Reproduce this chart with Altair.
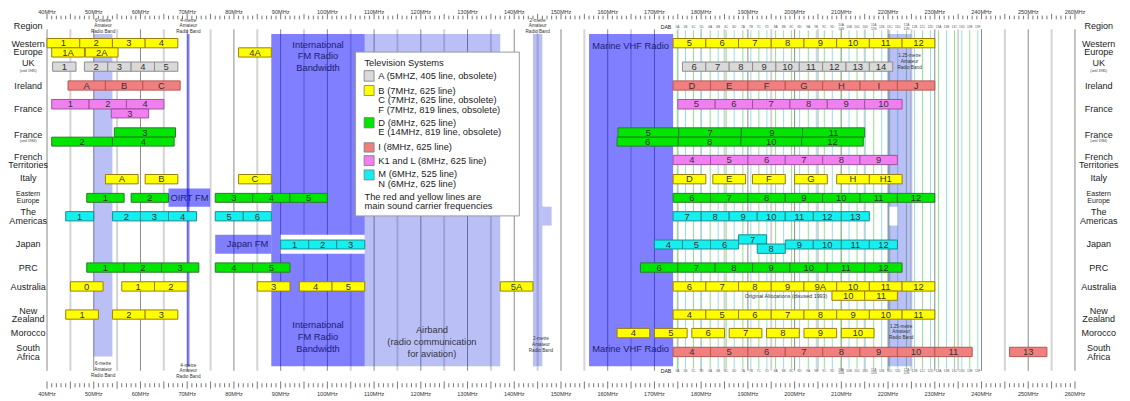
import altair as alt
import pandas as pd

# ---------------- channel data (label, start MHz, end MHz) ----------------
WESTERN_EUROPE = [("1", 40, 47), ("2", 47, 54), ("3", 54, 61), ("4", 61, 68),
                  ("5", 174, 181), ("6", 181, 188), ("7", 188, 195), ("8", 195, 202),
                  ("9", 202, 209), ("10", 209, 216), ("11", 216, 223), ("12", 223, 230)]
WESTERN_EUROPE_A = [("1A", 41, 48), ("2A", 48.2, 55.2), ("4A", 81, 88)]
UK = [("1", 41.2, 46.2), ("2", 48, 53), ("3", 53, 58), ("4", 58, 63), ("5", 63, 68),
      ("6", 176, 181), ("7", 181, 186), ("8", 186, 191), ("9", 191, 196), ("10", 196, 201),
      ("11", 201, 206), ("12", 206, 211), ("13", 211, 216), ("14", 216, 221)]
IRELAND = [("A", 44.5, 52.5), ("B", 52.5, 60.5), ("C", 60.5, 68.5),
           ("D", 174, 182), ("E", 182, 190), ("F", 190, 198), ("G", 198, 206),
           ("H", 206, 214), ("I", 214, 222), ("J", 222, 230)]
FRANCE = [("1", 41, 49), ("2", 49, 57), ("4", 57, 65),
          ("5", 175, 183), ("6", 183, 191), ("7", 191, 199), ("8", 199, 207),
          ("9", 207, 215), ("10", 215, 223)]
FRANCE_B = [("3", 53.75, 61.75)]
FRANCE_1984_A = [("3", 54.4, 67.5), ("5", 162.2, 175.2), ("7", 175.2, 188.6),
                 ("9", 188.6, 201.7), ("11", 201.7, 215)]
FRANCE_1984_B = [("2", 41, 54), ("4", 54, 67.2), ("6", 162, 175.1), ("8", 175.1, 188.5),
                 ("10", 188.5, 201.5), ("12", 201.5, 214.7)]
FRENCH_TERRITORIES = [("4", 174, 182), ("5", 182, 190), ("6", 190, 198), ("7", 198, 206),
                      ("8", 206, 214), ("9", 214, 222)]
ITALY = [("A", 52.5, 59.5), ("B", 61, 68), ("C", 81, 88), ("D", 174, 181), ("E", 182.5, 189.5),
         ("F", 191, 198), ("G", 200, 207), ("H", 209, 216), ("H1", 216, 223)]
EASTERN_EUROPE = [("1", 48.5, 56.5), ("2", 58, 66), ("3", 76, 84), ("4", 84, 92), ("5", 92, 100),
                  ("6", 174, 182), ("7", 182, 190), ("8", 190, 198), ("9", 198, 206),
                  ("10", 206, 214), ("11", 214, 222), ("12", 222, 230)]
AMERICAS = [("1", 44, 50), ("2", 54, 60), ("3", 60, 66), ("4", 66, 72), ("5", 76, 82), ("6", 82, 88),
            ("7", 174, 180), ("8", 180, 186), ("9", 186, 192), ("10", 192, 198), ("11", 198, 204),
            ("12", 204, 210), ("13", 210, 216)]
JAPAN = [("1", 90, 96), ("2", 96, 102), ("3", 102, 108), ("4", 170, 176), ("5", 176, 182),
         ("6", 182, 188), ("9", 198, 204), ("10", 204, 210), ("11", 210, 216), ("12", 216, 222)]
JAPAN_UP = [("7", 188, 194)]
JAPAN_DOWN = [("8", 192, 198)]
PRC = [("1", 48.5, 56.5), ("2", 56.5, 64.5), ("3", 64.5, 72.5), ("4", 76, 84), ("5", 84, 92),
       ("6", 167, 175), ("7", 175, 183), ("8", 183, 191), ("9", 191, 199), ("10", 199, 207),
       ("11", 207, 215), ("12", 215, 223)]
AUSTRALIA = [("0", 45, 52), ("1", 56, 63), ("2", 63, 70), ("3", 85, 92), ("4", 94, 101),
             ("5", 101, 108), ("5A", 137, 144), ("6", 174, 181), ("7", 181, 188), ("8", 188, 195),
             ("9", 195, 202), ("9A", 202, 209), ("10", 209, 216), ("11", 216, 223), ("12", 223, 230)]
AUSTRALIA_OLD = [("10", 208, 215), ("11", 215, 222)]
NEW_ZEALAND = [("1", 44, 51), ("2", 54, 61), ("3", 61, 68), ("4", 174, 181), ("5", 181, 188),
               ("6", 188, 195), ("7", 195, 202), ("8", 202, 209), ("9", 209, 216),
               ("10", 216, 223), ("11", 223, 230)]
MOROCCO = [("4", 162, 169), ("5", 170, 177), ("6", 178, 185), ("7", 186, 193), ("8", 194, 201),
           ("9", 202, 209), ("10", 210, 217)]
SOUTH_AFRICA = [("4", 174, 182), ("5", 182, 190), ("6", 190, 198), ("7", 198, 206),
                ("8", 206, 214), ("9", 214, 222), ("10", 222, 230), ("11", 230, 238), ("13", 246, 254)]

# radio bands (name, start MHz, end MHz)
BANDS_DARK = [("4-metre", 70, 70.5), ("FM", 88, 108), ("Marine", 156, 174)]
BANDS_LIGHT = [("6-metre", 50, 54), ("Airband", 108, 137), ("2-metre", 144, 146), ("1.25-metre", 220, 225)]
OIRT_FM = (66, 74.9)
JAPAN_FM = (76, 88)
JAPAN_GAP = (90, 108)
AMERICAS_2M_EXT = (146, 148)
AMERICAS_125_GAP = (220.3, 222)

DAB_BLOCKS = ["5A", "5B", "5C", "5D", "6A", "6B", "6C", "6D", "7A", "7B", "7C", "7D",
              "8A", "8B", "8C", "8D", "9A", "9B", "9C", "9D", "10A\n10N", "10B", "10C", "10D",
              "11A\n11N", "11B", "11C", "11D", "12A\n12N", "12B", "12C", "12D",
              "13A", "13B", "13C", "13D", "13E", "13F"]
DAB_MHZ = [174.928, 176.640, 178.352, 180.064, 181.936, 183.648, 185.360, 187.072,
           188.928, 190.640, 192.352, 194.064, 195.936, 197.648, 199.360, 201.072,
           202.928, 204.640, 206.352, 208.064, 209.936, 211.648, 213.360, 215.072,
           216.928, 218.640, 220.352, 222.064, 223.936, 225.648, 227.360, 229.072,
           230.784, 232.496, 234.208, 235.776, 237.488, 239.200]

REGIONS = ["Region", "Western\nEurope", "UK", "Ireland", "France", "France", "French\nTerritories",
           "Italy", "The\nAmericas", "Japan", "PRC", "Australia", "New\nZealand", "Morocco", "South\nAfrica"]
SMALL_REGIONS = ["Eastern\nEurope"]
REGION_NOTES = ["(until 1985)", "(until 1984)"]

LEGEND_TITLE = "Television Systems"
LEGEND_SYSTEMS = ["A", "B", "D", "I", "L", "M"]
LEGEND_LINES = [["A (5MHZ, 405 line, obsolete)"],
                ["B (7MHz, 625 line)", "C (7MHz, 625 line, obsolete)", "F (7MHz, 819 lines, obsolete)"],
                ["D (8MHz, 625 line)", "E (14MHz, 819 line, obsolete)"],
                ["I (8MHz, 625 line)"],
                ["K1 and L (8MHz, 625 line)"],
                ["M (6MHz, 525 line)", "N (6MHz, 625 line)"]]
LEGEND_NOTE = ["The red and yellow lines are", "main sound carrier frequencies"]

AXIS_MINOR_MHZ = list(range(40, 261))
AXIS_LABEL_MHZ = list(range(40, 261, 10))
GRID_MHZ = list(range(40, 261, 5))

# ---------------- styles / layout ----------------
SYS_DOMAIN = ["A", "B", "D", "I", "L", "M"]
SYS_FILL = ["#d9d9d9", "#ffff00", "#00e600", "#f08080", "#f080f0", "#14f0f0"]
SYS_STROKE = ["#8c8c8c", "#9a7d0a", "#2a7a2a", "#b85450", "#a050a0", "#1a8a8a"]
FONT = "Liberation Sans"
W, H = 1122, 393


def mhz(page_x):
    return 40 + (page_x - 47.3) / 4.706


X_MIN, X_MAX = mhz(8), mhz(8 + W)
XS = alt.Scale(domain=[X_MIN, X_MAX], nice=False, zero=False)
YS = alt.Scale(domain=[8, 8 + H], reverse=True, nice=False, zero=False)


def X(f):
    return alt.X(f"{f}:Q", scale=XS, axis=None)


def Y(f):
    return alt.Y(f"{f}:Q", scale=YS, axis=None)


ROW_SPAN = {"we": (37.3, 46.7), "we2": (46.7, 56.0), "uk": (61, 70.3), "ie": (80, 89.3),
            "fr": (98.7, 108.3), "fr2": (108.3, 117.3), "fe1": (127.3, 136.7), "fe2": (136.7, 145.7),
            "ft": (155, 164.3), "it": (174.3, 183.7), "ee": (193.3, 202.3), "am": (211.7, 221),
            "jp": (240.3, 249.3), "jp7": (235, 244.3), "jp8": (244.3, 253.7), "cn": (263.3, 272.7),
            "au": (282.3, 291.7), "au2": (291.7, 301), "nz": (310.7, 320), "ma": (329.3, 338.7),
            "za": (348.3, 357.7)}
CHANNEL_ROWS = [("we", "B", WESTERN_EUROPE), ("we2", "B", WESTERN_EUROPE_A), ("uk", "A", UK),
                ("ie", "I", IRELAND), ("fr", "L", FRANCE), ("fr2", "L", FRANCE_B),
                ("fe1", "D", FRANCE_1984_A), ("fe2", "D", FRANCE_1984_B), ("ft", "L", FRENCH_TERRITORIES),
                ("it", "B", ITALY), ("ee", "D", EASTERN_EUROPE), ("am", "M", AMERICAS),
                ("jp", "M", JAPAN), ("jp7", "M", JAPAN_UP), ("jp8", "M", JAPAN_DOWN), ("cn", "D", PRC),
                ("au", "B", AUSTRALIA), ("au2", "B", AUSTRALIA_OLD), ("nz", "B", NEW_ZEALAND),
                ("ma", "B", MOROCCO), ("za", "I", SOUTH_AFRICA)]
# y of the first text line of each region label
REGION_Y = [24.5, 42.5, 62.3, 84.7, 108.3, 134.3, 156.2, 178.3, 212.5, 244, 268.3, 287.3, 311.7, 334.3, 349.2]
SMALL_REGION_Y = [193.6]
NOTE_Y = [69.7, 140.3]
LEFT_X, RIGHT_X = mhz(28.3), mhz(1106.5)

recs = []
for key, sysname, entries in CHANNEL_ROWS:
    top, bot = ROW_SPAN[key]
    for lab, s, e in entries:
        recs.append(dict(label=lab, start=s, end=e, top=top, bot=bot, mid=(s + e) / 2,
                         ymid=(top + bot) / 2 + 0.3, system=sysname))
ch = pd.DataFrame(recs)

color_fill = alt.Color("system:N", scale=alt.Scale(domain=SYS_DOMAIN, range=SYS_FILL), legend=None)
color_stroke = alt.Stroke("system:N", scale=alt.Scale(domain=SYS_DOMAIN, range=SYS_STROKE), legend=None)

layers = []

# grid lines
grid = pd.DataFrame({"f": GRID_MHZ})
grid["y0"], grid["y1"] = 28, 372
layers.append(alt.Chart(grid[grid.f % 10 != 0]).mark_rule(color="#d4d4d4", strokeWidth=2)
              .encode(x=X("f"), y=Y("y0"), y2="y1"))
layers.append(alt.Chart(grid[grid.f % 10 == 0]).mark_rule(color="#8a8a8a", strokeWidth=1)
              .encode(x=X("f"), y=Y("y0"), y2="y1"))

# DAB lines
dab = pd.DataFrame({"f": DAB_MHZ, "lab": DAB_BLOCKS})
dab["two"] = dab.lab.str.contains("\n")
dab["y0"], dab["y1"] = 29, 370
dab["yt"] = dab.two.map({True: 24.2, False: 25.7})
dab["yb"] = dab.two.map({True: 371.2, False: 372.7})
layers.append(alt.Chart(dab.iloc[::2]).mark_rule(strokeWidth=1, color="#8fe08f").encode(
    x=X("f"), y=Y("y0"), y2="y1"))
layers.append(alt.Chart(dab.iloc[1::2]).mark_rule(strokeWidth=1, color="#98dede").encode(
    x=X("f"), y=Y("y0"), y2="y1"))

# bands
bd = pd.DataFrame([dict(n=n, s=s, e=e, top=32.7, bot=367.3) for n, s, e in BANDS_DARK] +
                  [dict(n="OIRT", s=OIRT_FM[0], e=OIRT_FM[1], top=188.3, bot=206.7),
                   dict(n="JFM", s=JAPAN_FM[0], e=JAPAN_FM[1], top=235, bot=254)])
bl = pd.DataFrame([dict(n=n, s=s, e=e, top=32.7, bot=(357.7 if n == "6-metre" else 367.3))
                   for n, s, e in BANDS_LIGHT] +
                  [dict(n="2m-ext", s=AMERICAS_2M_EXT[0], e=AMERICAS_2M_EXT[1], top=206.7, bot=225.7)])
layers.append(alt.Chart(bl).mark_rect(color="#1a30e0", opacity=0.3).encode(
    x=X("s"), x2="e", y=Y("top"), y2="bot"))
layers.append(alt.Chart(bd).mark_rect(color="#0000ff", opacity=0.5).encode(
    x=X("s"), x2="e", y=Y("top"), y2="bot"))
gaps = pd.DataFrame([dict(s=JAPAN_GAP[0], e=JAPAN_GAP[1], top=235, bot=254),
                     dict(s=AMERICAS_125_GAP[0], e=AMERICAS_125_GAP[1], top=206.7, bot=225.7)])
layers.append(alt.Chart(gaps).mark_rect(color="white").encode(x=X("s"), x2="e", y=Y("top"), y2="bot"))

# legend box
lbox = pd.DataFrame([dict(s=mhz(358), e=mhz(523), top=51, bot=216)])
layers.append(alt.Chart(lbox).mark_rect(fill="white", stroke="#9a9a9a", strokeWidth=1).encode(
    x=X("s"), x2="e", y=Y("top"), y2="bot"))
SW_Y = [(69.7, 80.3), (84.7, 94.7), (117, 127.3), (142.3, 151.7), (155.3, 165.3), (169.7, 179.7)]
TXT_Y = [[75.3], [90, 99.3, 109], [122, 131.7], [146.8], [160.3], [174.3, 183.7]]
sw = pd.DataFrame([dict(system=s, s=mhz(366.7), e=mhz(376.7), top=a, bot=b)
                   for s, (a, b) in zip(LEGEND_SYSTEMS, SW_Y)])
layers.append(alt.Chart(sw).mark_rect(stroke="#777", strokeWidth=0.8).encode(
    x=X("s"), x2="e", y=Y("top"), y2="bot", color=color_fill))
lt = [dict(t=LEGEND_TITLE, x=mhz(367), y=62)]
for lines, ys in zip(LEGEND_LINES, TXT_Y):
    for t, yy in zip(lines, ys):
        lt.append(dict(t=t, x=mhz(381), y=yy))
lt += [dict(t=LEGEND_NOTE[0], x=mhz(367), y=197), dict(t=LEGEND_NOTE[1], x=mhz(367), y=206.5)]
layers.append(alt.Chart(pd.DataFrame(lt)).mark_text(align="left", baseline="middle", font=FONT,
                                                     fontSize=9.4, color="#222").encode(
    x=X("x"), y=Y("y"), text="t:N"))

# channel bars + labels
layers.append(alt.Chart(ch).mark_rect(strokeWidth=1).encode(
    x=X("start"), x2="end", y=Y("top"), y2="bot", color=color_fill, stroke=color_stroke))
layers.append(alt.Chart(ch).mark_text(font=FONT, fontSize=9.5, baseline="middle", color="#333").encode(
    x=X("mid"), y=Y("ymid"), text="label:N"))

# band captions (y = first text line)
cap_navy = pd.DataFrame([
    dict(t="International\nFM Radio\nBandwidth", x=98, y=43.5),
    dict(t="International\nFM Radio\nBandwidth", x=98, y=326.3),
    dict(t="Marine VHF Radio", x=mhz(635), y=44.5),
    dict(t="Marine VHF Radio", x=mhz(635), y=350.5),
    dict(t="OIRT FM", x=mhz(190.7), y=198),
    dict(t="Japan FM", x=mhz(249.3), y=244.5),
])
cap_gray = pd.DataFrame([dict(t="Airband\n(radio communication\nfor aviation)", x=mhz(435), y=331.3)])
for df, col in [(cap_navy, "#1e1e70"), (cap_gray, "#333344")]:
    layers.append(alt.Chart(df).mark_text(font=FONT, fontSize=9.4, lineHeight=11.9, lineBreak="\n",
                                          baseline="middle", color=col).encode(
        x=X("x"), y=Y("y"), text="t:N"))

ham = pd.DataFrame([
    dict(t="6-metre\nAmateur\nRadio Band", x=52, y=19.2),
    dict(t="6-metre\nAmateur\nRadio Band", x=52, y=365.5),
    dict(t="4-metre\nAmateur\nRadio Band", x=70.25, y=19.2),
    dict(t="4-metre\nAmateur\nRadio Band", x=70.25, y=366.7),
    dict(t="2-metre\nAmateur\nRadio Band", x=145, y=19.2),
    dict(t="2-metre\nAmateur\nRadio Band", x=145.7, y=340),
    dict(t="1.25-metre\nAmateur\nRadio Band", x=224.6, y=55.2),
    dict(t="1.25-metre\nAmateur\nRadio Band", x=222.8, y=327.4),
])
layers.append(alt.Chart(ham).mark_text(font=FONT, fontSize=4.7, lineHeight=5.8, lineBreak="\n",
                                       baseline="middle", color="#333").encode(
    x=X("x"), y=Y("y"), text="t:N"))
layers.append(alt.Chart(pd.DataFrame([dict(t="Original Allocations (disused 1993)", x=mhz(791.7), y=296.7)]))
              .mark_text(font=FONT, fontSize=5.4, baseline="middle", color="#333").encode(
    x=X("x"), y=Y("y"), text="t:N"))

# DAB labels
dl = pd.DataFrame([dict(t="DAB", x=mhz(670.7), y=25.7), dict(t="DAB", x=mhz(670.7), y=372.7)])
layers.append(alt.Chart(dl).mark_text(font=FONT, fontSize=5.2, baseline="middle", color="#222").encode(
    x=X("x"), y=Y("y"), text="t:N"))
for ycol in ["yt", "yb"]:
    layers.append(alt.Chart(dab).mark_text(font=FONT, fontSize=3.2, lineHeight=3.2, lineBreak="\n",
                                           baseline="middle", color="#555").encode(
        x=X("f"), y=Y(ycol), text="lab:N"))

# region labels
rl = []
for name, yy in zip(REGIONS, REGION_Y):
    rl += [dict(t=name, x=LEFT_X, y=yy), dict(t=name, x=RIGHT_X, y=yy)]
layers.append(alt.Chart(pd.DataFrame(rl)).mark_text(font=FONT, fontSize=9.1, lineHeight=8.6, lineBreak="\n",
                                                    baseline="middle", color="#222").encode(
    x=X("x"), y=Y("y"), text="t:N"))
sr = []
for name, yy in zip(SMALL_REGIONS, SMALL_REGION_Y):
    sr += [dict(t=name, x=LEFT_X, y=yy), dict(t=name, x=RIGHT_X, y=yy)]
layers.append(alt.Chart(pd.DataFrame(sr)).mark_text(font=FONT, fontSize=7.1, lineHeight=7.4, lineBreak="\n",
                                                    baseline="middle", color="#222").encode(
    x=X("x"), y=Y("y"), text="t:N"))
nt = []
for name, yy in zip(REGION_NOTES, NOTE_Y):
    nt += [dict(t=name, x=LEFT_X, y=yy), dict(t=name, x=RIGHT_X, y=yy)]
layers.append(alt.Chart(pd.DataFrame(nt)).mark_text(font=FONT, fontSize=3.4, baseline="middle",
                                                    color="#333").encode(
    x=X("x"), y=Y("y"), text="t:N"))

# frequency axes (top and bottom)
ax = pd.DataFrame({"f": AXIS_MINOR_MHZ})
ax["major"] = ax.f % 5 == 0
ax["t0"] = ax.major.map({True: 12.5, False: 14.3})
ax["t1"] = 18
ax["b0"] = ax.major.map({True: 382.7, False: 384.5})
ax["b1"] = ax.major.map({True: 390, False: 388.6})
for a, b in [("t0", "t1"), ("b0", "b1")]:
    layers.append(alt.Chart(ax).mark_rule(color="#555", strokeWidth=0.8).encode(
        x=X("f"), y=Y(a), y2=b))
al = pd.DataFrame({"f": AXIS_LABEL_MHZ})
al["t"] = [f"{v}MHz" for v in AXIS_LABEL_MHZ]
al["yt"], al["yb"] = 10.3, 395.5
for ycol in ["yt", "yb"]:
    layers.append(alt.Chart(al).mark_text(font=FONT, fontSize=5.6, baseline="middle", color="#333").encode(
        x=X("f"), y=Y(ycol), text="t:N"))

chart = alt.layer(*layers).properties(
    width=W, height=H, padding=0, autosize=alt.AutoSizeParams(type="none"),
    background="white"
).configure_view(stroke=None)

chart.save("out.html", embed_options={"renderer": "svg", "actions": False})
